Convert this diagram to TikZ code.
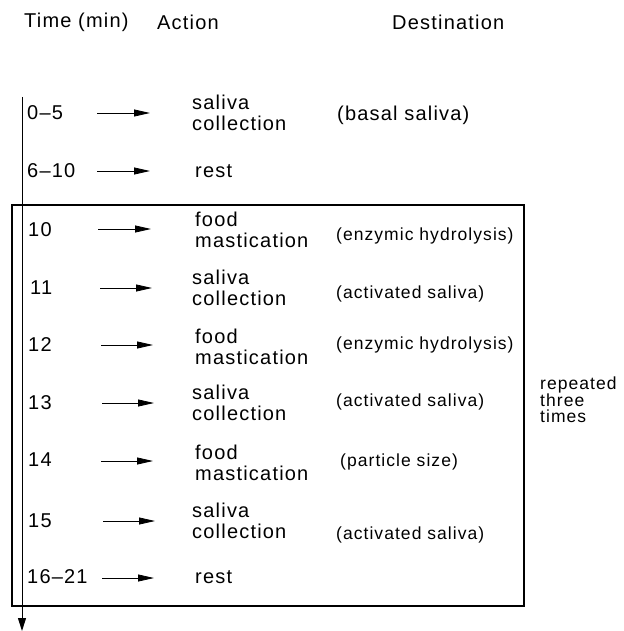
\documentclass[tikz,border=0pt]{standalone}
\usepackage{fontspec}
\setmainfont{Liberation Sans}[LetterSpace=6]
\usetikzlibrary{arrows.meta}
\begin{document}
\begin{tikzpicture}[x=1pt,y=-1pt,
  txt/.style={anchor=west,inner sep=0pt,font=\fontsize{20}{21.5}\selectfont,align=left},
  small/.style={anchor=west,inner sep=0pt,font=\fontsize{17.5}{16.5}\selectfont,align=left},
  arr/.style={-{Stealth[length=16pt,width=7pt,inset=0pt]},line width=0.8pt},
  frame/.style={line width=1.3pt}]
\useasboundingbox (0,0) rectangle (623,631);
% headers
\node[txt] (hT) at (24,22) {Time (min)};
\node[txt] (hA) at (157,22) {Action};
\node[txt] (hD) at (392,22) {Destination};
% time axis
\coordinate (axT) at (22,97);
\coordinate (axB) at (22,631);
\draw[line width=1pt,-{Stealth[length=13pt,width=8pt,inset=0pt]}] (axT) -- (axB);
% repeat box
\coordinate (bx1) at (12,205);
\coordinate (bx2) at (524,606);
\draw[frame] (bx1) rectangle (bx2);
% rows
\node[txt] (t1) at (27,113) {0--5};
\node[txt] (t2) at (27,171) {6--10};
\node[txt] (t3) at (28,230) {10};
\node[txt] (t4) at (30,288) {11};
\node[txt] (t5) at (28,345) {12};
\node[txt] (t6) at (28,403) {13};
\node[txt] (t7) at (28,460) {14};
\node[txt] (t8) at (28,521) {15};
\node[txt] (t9) at (27,577) {16--21};
\node[txt] (a1) at (192,113) {saliva\\collection};
\node[txt] (a2) at (195,171) {rest};
\node[txt] (a3) at (195,230) {food\\mastication};
\node[txt] (a4) at (192,288) {saliva\\collection};
\node[txt] (a5) at (195,347) {food\\mastication};
\node[txt] (a6) at (192,403) {saliva\\collection};
\node[txt] (a7) at (195,463) {food\\mastication};
\node[txt] (a8) at (192,521) {saliva\\collection};
\node[txt] (a9) at (195,577) {rest};
\node[txt] (d1) at (337,115) {(basal saliva)};
\node[small] (d3) at (336,236) {(enzymic hydrolysis)};
\node[small] (d4) at (336,294) {(activated saliva)};
\node[small] (d5) at (336,345) {(enzymic hydrolysis)};
\node[small] (d6) at (336,402) {(activated saliva)};
\node[small] (d7) at (340,462) {(particle size)};
\node[small] (d8) at (336,535) {(activated saliva)};
\node[small] (rep) at (540,400) {repeated\\three\\times};
% arrows
\foreach \i/\y/\xs/\xe in {1/113/97/150,2/171/97/150,3/229/98/151,4/288/100/152,5/345/101/153,6/403/102/154,7/461/101/153,8/521/103/155,9/578/102/154}{
  \coordinate (s\i) at (\xs,\y);
  \coordinate (e\i) at (\xe,\y);
  \draw[arr] (s\i) -- (e\i);
}
\end{tikzpicture}
\end{document}
